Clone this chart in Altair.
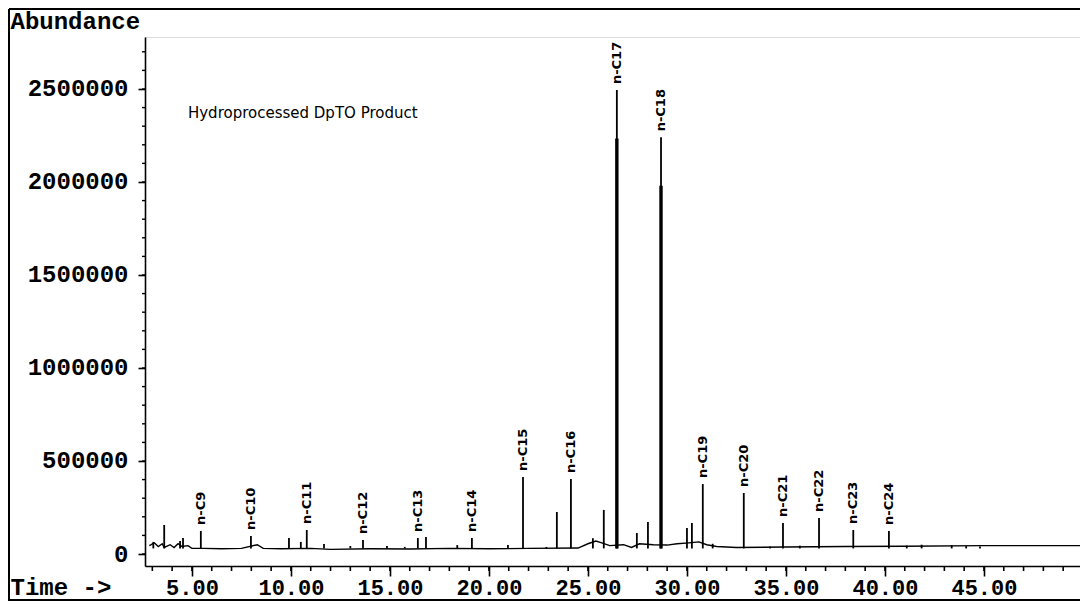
import altair as alt
import pandas as pd

# ---- peaks (retention time in min, abundance) ----
peak_time = [3.05, 3.6, 4.4, 4.55, 5.45, 7.98, 9.9, 10.5, 10.8, 11.67, 13.0, 13.64,
             14.85, 15.75, 16.41, 16.82, 18.4, 19.14, 20.96, 21.72, 22.9, 23.43,
             24.14, 25.25, 25.8, 26.46, 27.47, 28.03, 28.69, 30.0, 30.25, 30.8,
             31.3, 32.87, 34.2, 34.85, 35.7, 36.67, 38.4, 40.2, 41.1, 41.85, 43.37,
             44.1, 44.8]
peak_height = [65000, 156000, 70000, 86000, 124000, 97000, 86000, 65000, 129000, 54000,
               43000, 75000, 43000, 38000, 86000, 91000, 48000, 86000, 48000, 414000,
               38000, 226000, 403000, 85000, 237000, 2494000, 113000, 172000, 2240000,
               140000, 167000, 376000, 55000, 328000, 40000, 167000, 45000, 194000,
               129000, 124000, 45000, 50000, 48000, 42000, 40000]
peak_name = ["", "", "", "", "n-C9", "n-C10", "", "", "n-C11", "", "", "n-C12",
             "", "", "n-C13", "", "", "n-C14", "", "n-C15", "", "", "n-C16", "", "",
             "n-C17", "", "", "n-C18", "", "", "n-C19", "", "n-C20", "", "n-C21", "",
             "n-C22", "n-C23", "n-C24", "", "", "", "", ""]

# ---- baseline trace ----
base_time = [2.85, 3.1, 3.3, 3.5, 3.6, 3.9, 4.1, 4.3, 4.5, 4.8, 5.0, 5.6, 6.5, 7.5,
             8.3, 8.6, 9.5, 11.0, 12.0, 14.0, 16.0, 18.0, 20.0, 22.0, 24.5, 25.0,
             25.4, 25.7, 26.1, 26.8, 27.2, 27.6, 28.3, 29.0, 29.5, 30.1, 30.6, 31.0,
             31.5, 32.5, 35.0, 38.0, 41.0, 45.0, 49.85]
base_value = [45000, 60000, 40000, 55000, 35000, 50000, 35000, 55000, 40000, 45000,
              30000, 30000, 28000, 30000, 50000, 30000, 28000, 30000, 25000, 28000,
              27000, 30000, 28000, 30000, 32000, 55000, 70000, 60000, 45000, 50000,
              35000, 55000, 50000, 48000, 55000, 60000, 65000, 50000, 40000, 35000,
              38000, 40000, 42000, 45000, 45000]

x_major = [5, 10, 15, 20, 25, 30, 35, 40, 45]
x_minor = list(range(3, 50))
y_major = [0, 500000, 1000000, 1500000, 2000000, 2500000]
y_minor = list(range(0, 2700001, 100000))

title_text = ["Hydroprocessed DpTO Product"]
title_time = [4.8]
title_value = [2371000]

peaks = pd.DataFrame({"t": peak_time, "h": peak_height, "name": peak_name})
base = pd.DataFrame({"t": base_time, "v": base_value})
note = pd.DataFrame({"t": title_time, "v": title_value, "txt": title_text})
xminor_df = pd.DataFrame({"t": x_minor})
yminor_df = pd.DataFrame({"v": y_minor})

MONO = "Liberation Mono"
W, H = 935, 529

x_scale = alt.Scale(domain=[2.63, 49.85], nice=False, zero=False)
y_scale = alt.Scale(domain=[-64500, 2779500], nice=False, zero=False)

common = dict(domainColor="black", domainWidth=1.6, tickColor="black", tickWidth=1.6,
              grid=False)

x_axis = alt.Axis(
    orient="bottom", values=x_major, format=".2f", tickSize=10, labelPadding=1,
    labelFont=MONO, labelFontWeight="bold", labelFontSize=22, labelColor="black",
    labelOverlap=False, labelFlush=False,
    title="Time ->", titleFont=MONO, titleFontWeight="bold", titleFontSize=24,
    titleColor="black", titleAngle=0, titleAlign="left", titleBaseline="middle",
    titleX=-135, titleY=21, **common,
)

y_axis = alt.Axis(
    orient="left", values=y_major, format="d", tickSize=7, labelPadding=10,
    labelFont=MONO, labelFontWeight="bold", labelFontSize=24, labelColor="black",
    labelOverlap=False, labelFlush=False,
    title="Abundance", titleFont=MONO, titleFontWeight="bold", titleFontSize=24,
    titleColor="black", titleAngle=0, titleAlign="left", titleBaseline="middle",
    titleX=-135, titleY=-16, **common,
)

baseline = alt.Chart(base).mark_line(color="black", strokeWidth=1.4).encode(
    x=alt.X("t:Q", scale=x_scale, axis=x_axis),
    y=alt.Y("v:Q", scale=y_scale, axis=y_axis),
)

# minor ticks of the two axes
x_minor_ticks = alt.Chart(xminor_df).mark_rule(color="black", strokeWidth=1.6).encode(
    x="t:Q", y=alt.value(H), y2=alt.value(H + 5)
)
y_minor_ticks = alt.Chart(yminor_df).mark_rule(color="black", strokeWidth=1.4).encode(
    y="v:Q", x=alt.value(-3), x2=alt.value(0)
)

spikes = alt.Chart(peaks).mark_rule(color="black", strokeWidth=1.8).encode(
    x="t:Q", y="h:Q", y2=alt.datum(30000)
)

big = alt.Chart(peaks).transform_filter("datum.h > 1000000").transform_calculate(
    thick="datum.h - 260000"
).mark_rule(color="black", strokeWidth=3.4).encode(
    x="t:Q", y="thick:Q", y2=alt.datum(30000)
)

labels = alt.Chart(peaks).transform_filter("datum.name != ''").mark_text(
    angle=270, align="left", baseline="middle", dx=6,
    font="DejaVu Sans", fontWeight="bold", fontSize=13, color="black"
).encode(x="t:Q", y="h:Q", text="name:N")

note_text = alt.Chart(note).mark_text(
    align="left", baseline="middle", font="DejaVu Sans", fontSize=15, color="black"
).encode(x="t:Q", y="v:Q", text="txt:N")

frame_df = pd.DataFrame({"k": [0]})
frame_top = alt.Chart(frame_df).mark_rule(color="black", strokeWidth=2).encode(
    x=alt.value(-136), x2=alt.value(W), y=alt.value(-28)
)
frame_left = alt.Chart(frame_df).mark_rule(color="black", strokeWidth=2).encode(
    x=alt.value(-136), y=alt.value(-28), y2=alt.value(564)
)
frame_bottom = alt.Chart(frame_df).mark_rule(color="black", strokeWidth=2).encode(
    x=alt.value(-136), x2=alt.value(W), y=alt.value(563)
)

chart = alt.layer(
    baseline, x_minor_ticks, y_minor_ticks, spikes, big, labels, note_text,
    frame_top, frame_left, frame_bottom
).properties(
    width=W, height=H,
    autosize=alt.AutoSizeParams(type="none"),
    padding={"left": 137, "top": 29, "right": 0, "bottom": 36},
).configure_view(stroke=None).configure(background="white")

chart.save("out.html", embed_options={"renderer": "svg", "actions": False})
